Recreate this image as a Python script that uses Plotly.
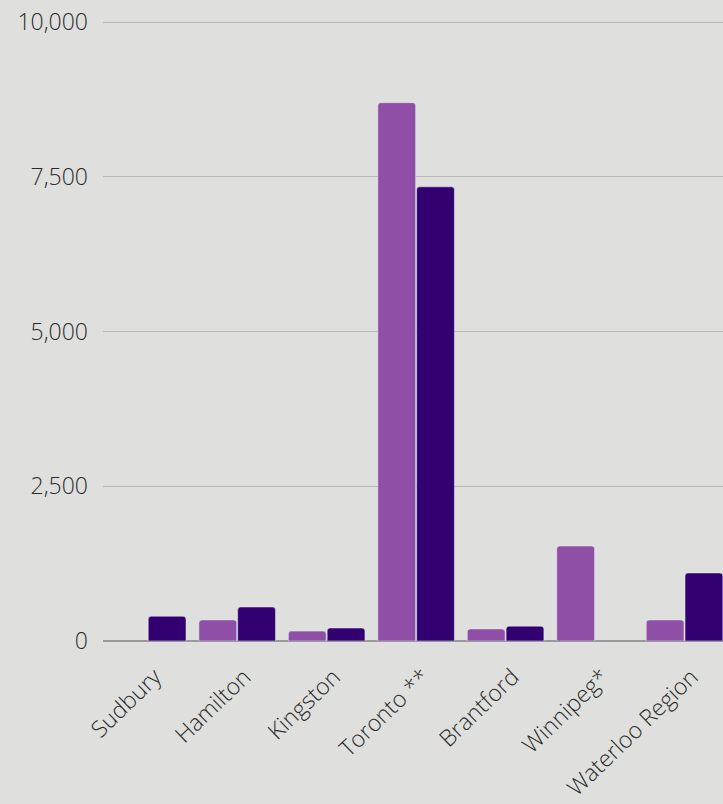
import plotly.graph_objects as go

categories = ["Sudbury", "Hamilton", "Kingston", "Toronto **", "Brantford", "Winnipeg*", "Waterloo Region"]
series_a = [None, 340, 160, 8700, 195, 1535, 340]
series_b = [400, 550, 210, 7340, 240, None, 1100]
y_ticks = [0, 2500, 5000, 7500, 10000]
y_tick_labels = ["0", "2,500", "5,000", "7,500", "10,000"]

fig = go.Figure()
fig.add_trace(go.Bar(x=categories, y=series_a, name="Series A", marker_color="#8f4fa7"))
fig.add_trace(go.Bar(x=categories, y=series_b, name="Series B", marker_color="#330072"))

fig.update_layout(
    width=723, height=804,
    margin=dict(l=103, r=0, t=21, b=163),
    paper_bgcolor="#dfe0dd",
    plot_bgcolor="rgba(0,0,0,0)",
    barmode="group",
    bargap=0.133,
    bargroupgap=0.026,
    barcornerradius=3,
    showlegend=False,
    font=dict(family="Open Sans", color="#2b2b2b"),
)
fig.update_xaxes(
    range=[-0.5, 6.43],
    tickangle=-44,
    tickfont=dict(size=23, color="#2b2b2b", weight=300),
    showgrid=False,
    showline=False,
    ticks="",
    ticklabelstandoff=17,
    ticklabelshift=7,
)
fig.update_yaxes(
    range=[0, 10020],
    tickvals=y_ticks,
    ticktext=y_tick_labels,
    tickfont=dict(size=23, color="#2b2b2b", weight=300),
    showgrid=True,
    gridcolor="#b8b8b8",
    gridwidth=1.2,
    zeroline=True,
    zerolinecolor="#9a9a9a",
    zerolinewidth=2,
    ticklabelstandoff=14,
)

fig.write_html("out.html", config={"displayModeBar": False},
               post_script="document.body.style.margin='0';")
